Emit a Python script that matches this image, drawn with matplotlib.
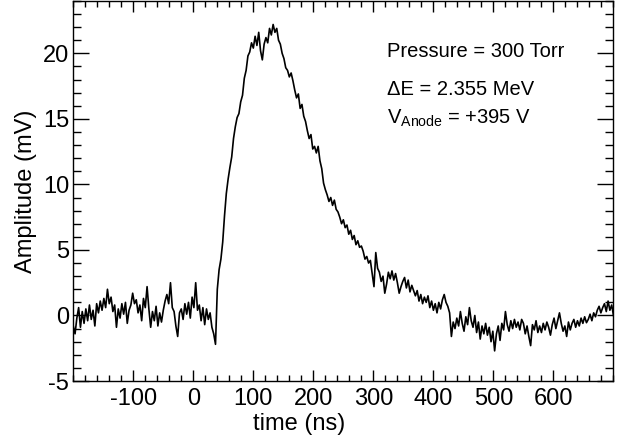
import numpy as np
import matplotlib
matplotlib.use("Agg")
import matplotlib.pyplot as plt
from matplotlib.ticker import MultipleLocator

plt.rcParams['font.family'] = ['Liberation Sans', 'DejaVu Sans']
plt.rcParams['mathtext.fontset'] = 'custom'
plt.rcParams['mathtext.rm'] = 'Liberation Sans'
plt.rcParams['mathtext.it'] = 'Liberation Sans'
plt.rcParams['axes.unicode_minus'] = False

# sampling grid of the waveform (ns)
t_start = -200.0
t_step = 3.0

# amplitude (mV)
amplitude = [
    -0.8, -1.4, -0.2, 0.6, -0.9, 0.3, -0.6, 0.5, -0.4, 0.8,
    -0.3, 0.4, -0.8, 0.9, 0.2, 1.1, 0.4, 1.3, 0.6, 2.0,
    0.9, 1.4, 0.3, 0.8, -0.9, 0.5, -0.2, 0.9, 0.1, 1.0,
    -0.6, 0.4, 0.8, 1.7, 0.9, 1.2, 0.2, 0.8, -0.4, 1.3,
    0.6, 2.2, 0.5, -0.9, 0.3, -0.4, 0.7, -0.8, 0.2, -0.5,
    0.4, 1.1, 1.6, 0.9, 2.5, 0.6, 0.3, -0.8, -1.6, 0.2,
    0.5, -0.3, 0.9, 0.1, 1.0, -0.2, 1.4, 0.6, 2.5, 0.4,
    0.8, -0.4, 0.6, -0.7, 0.5, -0.3, 0.2, -0.9, -1.4, -2.2,
    2.0, 3.5, 4.3, 5.6, 7.6, 9.3, 10.4, 11.3, 12.1, 13.5,
    14.4, 15.1, 15.4, 16.3, 16.8, 18.1, 18.7, 19.8, 20.1, 20.8,
    20.4, 21.3, 20.6, 21.6, 20.2, 19.5, 20.7, 21.2, 20.8, 21.9,
    21.4, 22.2, 21.6, 21.9, 21.0, 20.7, 20.0, 19.6, 18.9, 18.7,
    18.2, 18.5, 17.9, 17.2, 16.6, 16.9, 15.8, 16.1, 15.2, 14.8,
    14.1, 13.5, 13.8, 12.7, 12.9, 12.4, 12.9, 11.8, 11.2, 10.1,
    9.6, 9.2, 8.7, 9.0, 8.4, 8.8, 8.1, 7.9, 7.5, 7.0,
    7.3, 6.7, 6.9, 6.2, 6.5, 5.8, 6.1, 5.4, 5.7, 5.2,
    5.3, 4.9, 4.3, 4.5, 4.0, 4.2, 3.2, 2.2, 4.8, 3.6,
    3.3, 2.6, 3.0, 1.7, 2.4, 3.3, 2.8, 3.4, 2.7, 3.2,
    2.5, 1.7, 2.2, 2.6, 2.9, 2.1, 2.7, 1.8, 2.3, 1.9,
    1.5, 1.9, 1.1, 1.6, 0.9, 1.4, 1.0, 1.5, 0.6, 1.1,
    0.4, 0.9, 0.2, 1.0, 0.5, 1.2, 1.6, 1.0, 0.7, 0.2,
    -1.6, -0.5, -1.0, -0.2, -0.8, 0.3, -0.6, -1.2, -0.1, -0.7,
    0.6, -0.4, -0.9, 0.0, -1.3, -0.5, -1.8, -0.8, -1.4, -0.6,
    -1.5, -0.9, -2.0, -1.2, -2.7, -1.4, -0.8, -1.9, -0.6, -1.1,
    0.3, -0.7, -1.2, -0.4, -1.0, -0.3, -0.9, -0.5, -1.1, -0.3,
    -0.6, -1.4, -0.8, -1.6, -2.3, -0.7, -1.1, -0.4, -1.3, -0.8,
    -1.3, -0.6, -1.1, -0.5, -0.9, -1.5, -0.7, -0.2, -1.0, -0.4,
    0.2, -0.6, -1.2, -0.8, -1.6, -0.5, -1.1, -0.6, -0.3, -0.9,
    -0.4, -0.8, -0.2, -0.6, -0.1, -0.55, -0.3, 0.1, -0.4, 0.2,
    -0.1, 0.4, 0.7, 0.2, 0.6, 0.9, 0.3, 1.1, 0.4, 0.8,
    0.0,
]

x_ticks = [-100, 0, 100, 200, 300, 400, 500, 600]
y_ticks = [-5, 0, 5, 10, 15, 20]
annotations = ["Pressure = 300 Torr", "\u0394E = 2.355 MeV", r"V$_{\mathrm{Anode}}$ = +395 V"]

time = t_start + t_step * np.arange(len(amplitude))

fig = plt.figure(figsize=(6.26, 4.41), dpi=100)
ax = fig.add_axes([0.117, 0.136, 0.863, 0.862])
ax.plot(time, amplitude, color='black', lw=1.2)

ax.set_xlim(-200, 700)
ax.set_ylim(-5, 24)
ax.set_xticks(x_ticks)
ax.set_yticks(y_ticks)
ax.xaxis.set_minor_locator(MultipleLocator(20))
ax.yaxis.set_minor_locator(MultipleLocator(1))
ax.tick_params(axis='both', which='both', direction='in', top=True, right=True,
               labelsize=17, color='black', width=1.0)
ax.tick_params(axis='x', which='major', length=8, pad=5)
ax.tick_params(axis='x', which='minor', length=4)
ax.tick_params(axis='y', which='major', length=11.5, pad=3)
ax.tick_params(axis='y', which='minor', length=5.8)
for s in ax.spines.values():
    s.set_linewidth(1.0)

ax.set_xlabel("time (ns)", fontsize=17, labelpad=0)
ax.xaxis.set_label_coords(0.418, -0.085)
ax.set_ylabel("Amplitude (mV)", fontsize=17, labelpad=4)

ypos = [0.853, 0.753, 0.676]
for txt, yp in zip(annotations, ypos):
    ax.text(0.580, yp, txt, transform=ax.transAxes, fontsize=14.5, va='baseline', ha='left')

fig.savefig("out.png", dpi=100)
